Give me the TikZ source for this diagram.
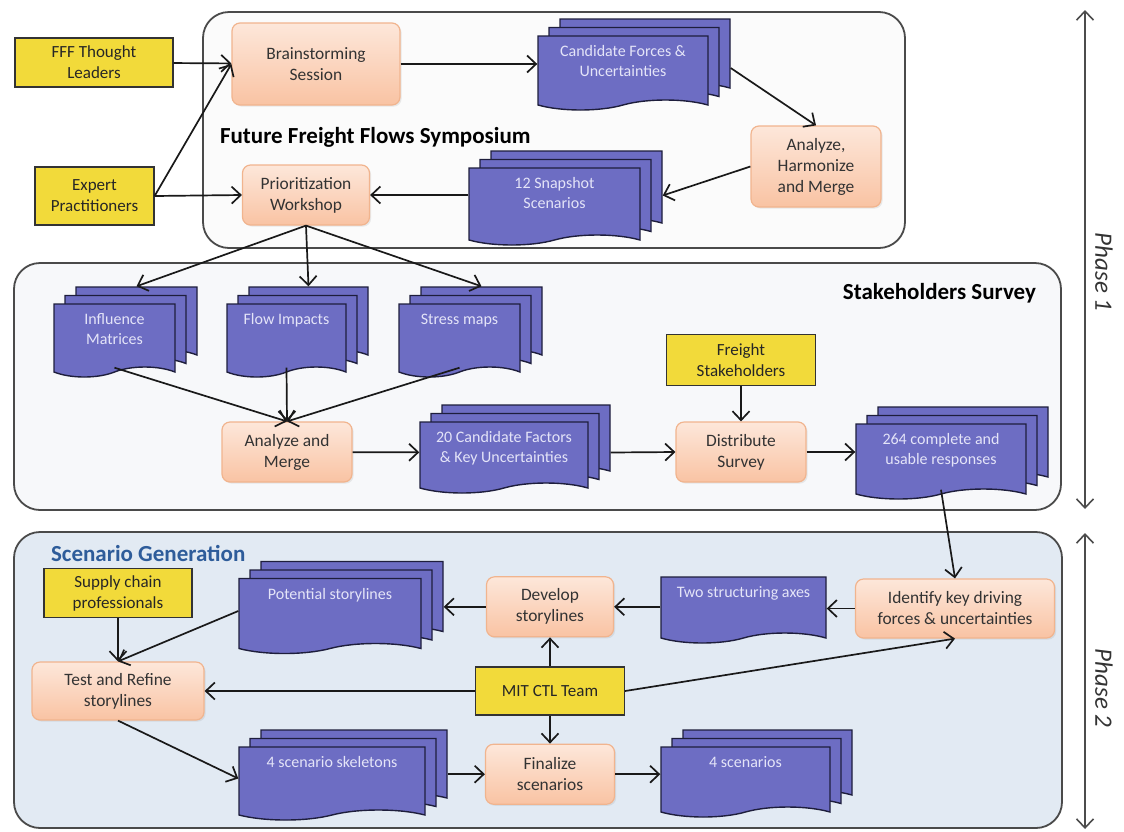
\documentclass[tikz,border=0pt]{standalone}
\usepackage{fontspec}
\setmainfont{Carlito}
\usetikzlibrary{arrows.meta,positioning,shapes.symbols,shadows}
\definecolor{procTop}{HTML}{FDE7DA}
\definecolor{procBot}{HTML}{F9C3A3}
\definecolor{procLine}{HTML}{F1B48E}
\definecolor{actorFill}{HTML}{F2DA3A}
\definecolor{docFill}{HTML}{6D6DC3}
\definecolor{docLine}{HTML}{1E1E3C}
\definecolor{docText}{HTML}{E4E4F8}
\definecolor{panelLine}{HTML}{4A4A4A}
\definecolor{sympFill}{HTML}{FBFBFB}
\definecolor{surveyFill}{HTML}{F7F8FA}
\definecolor{genFill}{HTML}{E2EAF3}
\definecolor{genTitle}{HTML}{2E5C9A}

\begin{document}
\begin{tikzpicture}[x=0.5pt,y=-0.5pt,>={Straight Barb[length=4.5pt,width=8.5pt]}]
  \tikzstyle{panel}=[draw=panelLine,line width=0.9pt,rounded corners=13pt]
  \tikzstyle{title}=[font=\fontsize{11.5}{13}\selectfont\bfseries]
  \tikzstyle{proc}=[draw=procLine,line width=0.6pt,rounded corners=4pt,top color=procTop,bottom color=procBot,text=black!80,align=center,font=\fontsize{8.7}{10.5}\selectfont,drop shadow={shadow xshift=0.8pt,shadow yshift=-0.8pt,opacity=0.15}]
  \tikzstyle{actor}=[draw=black!80,line width=0.6pt,fill=actorFill,text=black!85,align=center,font=\fontsize{8.5}{10.5}\selectfont]
  \tikzstyle{sheet}=[tape,tape bend top=none,tape bend height=5pt,draw=docLine,line width=0.7pt,fill=docFill,text=docText,align=center,font=\fontsize{8}{10}\selectfont]
  \tikzstyle{stack}=[sheet,copy shadow={shadow xshift=11pt,shadow yshift=8.5pt,fill=docFill,draw=docLine,line width=0.7pt},copy shadow={shadow xshift=5.5pt,shadow yshift=4.25pt,fill=docFill,draw=docLine,line width=0.7pt}]
  \tikzstyle{link}=[->,line width=0.85pt,draw=black!90]
  \tikzstyle{phase}=[rotate=-90,font=\fontsize{12.5}{14}\selectfont\itshape,text=black!80]
  \useasboundingbox (0,0) rectangle (1124,831);

  \node[panel,fill=sympFill,minimum width=351pt,minimum height=118pt] (symp) at (554,130) {};
  \node[panel,fill=surveyFill,minimum width=523.5pt,minimum height=123.5pt] (survey) at (537.5,386.5) {};
  \node[panel,fill=genFill,minimum width=524pt,minimum height=148pt] (gen) at (538,680) {};
  \node[title,anchor=west] (sympname) at (213,137) {Future Freight Flows Symposium};
  \node[title,anchor=east] (surveyname) at (1043,293) {Stakeholders Survey};
  \node[title,anchor=west,text=genTitle] (genname) at (44,553) {Scenario Generation};

  \coordinate (ph1top) at (1085,10);
  \coordinate (ph1bot) at (1085,509);
  \coordinate (ph2top) at (1085,533);
  \coordinate (ph2bot) at (1085,829);
  \draw[<->,draw=black!70,line width=0.8pt] (ph1top) -- (ph1bot);
  \draw[<->,draw=black!70,line width=0.8pt] (ph2top) -- (ph2bot);
  \node[phase] (ph1) at (1104,272) {Phase 1};
  \node[phase] (ph2) at (1104,688) {Phase 2};

  \node[actor,minimum width=79pt,minimum height=24.5pt] (fff) at (94,62.5) {FFF Thought\\Leaders};
  \node[actor,minimum width=59.5pt,minimum height=29pt] (expert) at (94.5,196) {Expert\\Practitioners};
  \node[proc,minimum width=84pt,minimum height=41pt] (brain) at (316,64) {Brainstorming\\Session};
  \node[stack,minimum width=85pt,minimum height=37pt] (cand) at (623,68) {Candidate Forces \&\\Uncertainties\\[-3pt]};
  \node[proc,minimum width=65pt,minimum height=40.5pt] (ahm) at (816,166.5) {Analyze,\\Harmonize\\and Merge};
  \node[stack,minimum width=85.5pt,minimum height=38.5pt] (snap) at (554.5,201.5) {12 Snapshot\\Scenarios\\[-1.5pt]};
  \node[proc,minimum width=63.5pt,minimum height=30pt] (prior) at (306,195) {Prioritization\\Workshop};

  \node[stack,minimum width=60.5pt,minimum height=36.5pt] (infl) at (114.5,335.5) {Influence\\Matrices\\[-3.5pt]};
  \node[stack,minimum width=59.5pt,minimum height=36.5pt] (impacts) at (286.5,335.5) {Flow Impacts\\[6.5pt]};
  \node[stack,minimum width=60.5pt,minimum height=36.5pt] (stress) at (459.5,335.5) {Stress maps\\[6.5pt]};
  \node[proc,minimum width=65pt,minimum height=30pt] (am) at (287,452) {Analyze and\\Merge};
  \node[stack,minimum width=84pt,minimum height=35.5pt] (factors) at (504,452.5) {20 Candidate Factors\\\& Key Uncertainties\\[-4.5pt]};
  \node[proc,minimum width=65pt,minimum height=30pt] (dist) at (741,452) {Distribute\\Survey};
  \node[actor,above=17.5pt of dist,minimum width=74.5pt,minimum height=25.5pt] (freight) {Freight\\Stakeholders};
  \node[stack,minimum width=85pt,minimum height=37.5pt] (resp) at (941,456.5) {264 complete and\\usable responses\\[-2.5pt]};

  \node[proc,minimum width=99.5pt,minimum height=29.5pt] (ident) at (955,608.5) {Identify key driving\\forces \& uncertainties};
  \node[sheet,minimum width=82.5pt,minimum height=33pt] (axes) at (743.5,605) {Two structuring axes\\[3pt]};
  \node[actor,minimum width=74.5pt,minimum height=24pt] (mit) at (550,691) {MIT CTL Team};
  \node[proc,above=14.5pt of mit,minimum width=63.5pt,minimum height=30pt] (dev) {Develop\\storylines};
  \node[proc,below=14pt of mit,minimum width=64.5pt,minimum height=30pt] (fin) {Finalize\\scenarios};
  \node[stack,minimum width=91pt,minimum height=37.5pt] (pot) at (330,611) {Potential storylines\\[7.5pt]};
  \node[proc,minimum width=86pt,minimum height=29pt] (test) at (118,691) {Test and Refine\\storylines};
  \node[actor,above=21.5pt of test,minimum width=74pt,minimum height=24.5pt] (supply) {Supply chain\\professionals};
  \node[stack,minimum width=93pt,minimum height=36.5pt] (skel) at (332,778.5) {4 scenario skeletons\\[6.5pt]};
  \node[stack,minimum width=84.5pt,minimum height=35pt] (scen) at (745.5,777) {4 scenarios\\[5pt]};
  \coordinate (potback) at ([xshift=11pt]pot.east);
  \coordinate (skelback) at ([xshift=11pt]skel.east);

  \draw[link] (fff) -- (brain);
  \draw[link] (expert.east) -- (brain.west);
  \draw[link] (expert.east) -- (prior.west);
  \draw[link] (brain.east) -- (brain.east -| cand.west);
  \draw[link] ([xshift=11pt]cand.east) -- (ahm.north);
  \draw[link] (ahm.west) -- ([xshift=11pt,yshift=3pt]snap.east);
  \draw[link] (snap.west |- prior.east) -- (prior.east);
  \draw[link] (prior.south) -- ([shift={(11pt,8.5pt)}]infl.north);
  \draw[link] (prior.south) -- ([shift={(11pt,8.5pt)}]impacts.north);
  \draw[link] (prior.south) -- ([shift={(11pt,8.5pt)}]stress.north);
  \draw[link] (infl.south) -- (am.north);
  \draw[link] (impacts.south) -- (am.north);
  \draw[link] (stress.south) -- (am.north);
  \draw[link] (am) -- (factors);
  \draw[link] ([xshift=11pt]factors.east) -- (dist.west);
  \draw[link] (freight) -- (dist);
  \draw[link] (dist.east) -- (dist.east -| resp.west);
  \draw[link] (resp.south) -- (ident.north);
  \draw[link] (ident.west) -- (ident.west -| axes.east);
  \draw[link] (dev.east -| axes.west) -- (dev.east);
  \draw[link] (dev.west) -- (dev.west -| potback);
  \draw[link] (supply) -- (test);
  \draw[link] (pot.west) -- (test.north);
  \draw[link] (mit) -- (test);
  \draw[link] (mit) -- (dev);
  \draw[link] (mit) -- (fin);
  \draw[link] (mit.east) -- (ident.south);
  \draw[link] (test.south) -- (skel.west);
  \draw[link] (fin.west -| skelback) -- (fin.west);
  \draw[link] (fin.east) -- (fin.east -| scen.west);
\end{tikzpicture}
\end{document}
